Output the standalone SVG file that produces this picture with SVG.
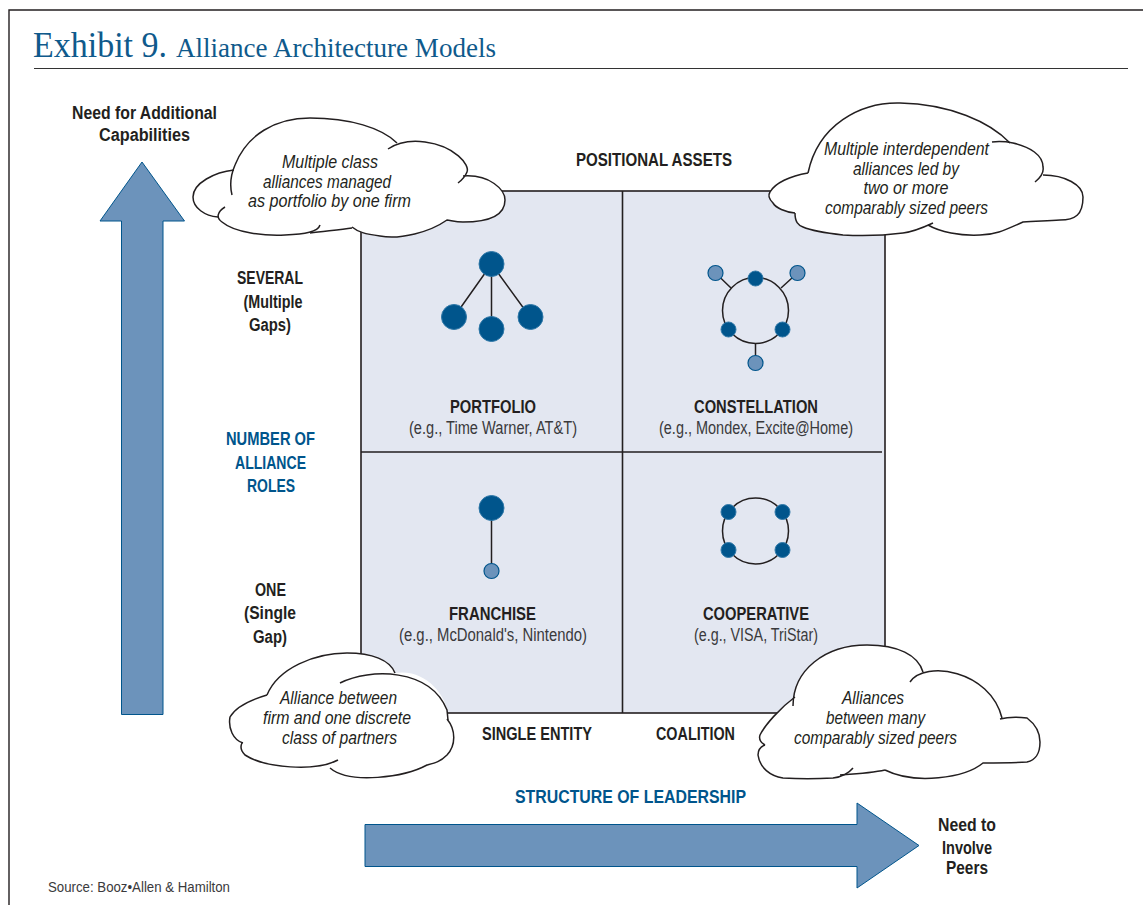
<svg xmlns="http://www.w3.org/2000/svg" width="1143" height="905" viewBox="0 0 1143 905">
<style>
text{font-family:"Liberation Sans",Arial,sans-serif;fill:#231f20;text-anchor:middle}
.b{font-weight:700;font-size:17.5px}
.bl{fill:#00558c}
.n{font-size:17.5px;fill:#3a3a3c}
.i{font-style:italic;font-size:18px}
.t{font-family:"Liberation Serif","Times New Roman",serif;fill:#0f5a8c;text-anchor:start}
.cl{fill:#fff;stroke:none}
.co{fill:none;stroke:#231f20;stroke-width:1.5}
.arrow{fill:#6c93bb;stroke:#00558c;stroke-width:1}
.d{fill:#00558c;stroke:#2f78a8;stroke-width:1}
.l{fill:#6c93bb;stroke:#00558c;stroke-width:1.2}
.e{fill:none;stroke:#231f20;stroke-width:1.5}
</style>
<rect width="1143" height="905" fill="#fff"/>
<path d="M9 905V10H1143" fill="none" stroke="#231f20" stroke-width="1.4"/>
<text class="t" x="33" y="57" textLength="134" lengthAdjust="spacingAndGlyphs" style="font-size:35.5px">Exhibit 9.</text>
<text class="t" x="176" y="57" textLength="320" lengthAdjust="spacingAndGlyphs" style="font-size:27px">Alliance Architecture Models</text>
<path d="M34 68.500H1128" stroke="#333" stroke-width="1"/>

<g id="matrix">
<rect x="361" y="191" width="524" height="522" fill="#e3e7f1" stroke="#231f20" stroke-width="1.6"/>
<path d="M622.500 191V713M361 452H882" stroke="#231f20" stroke-width="1.6" fill="none"/>
</g>

<g id="arrow-up"><path class="arrow" d="M121.500 714.500V221H100L142 162L184.500 221H163V714.500Z"/></g>
<g id="arrow-right"><path class="arrow" d="M365 824.500H857V803L919 845.500L857 888V866.500H365Z"/></g>

<g id="labels">
<text class="b" x="144.500" y="119" textLength="145" lengthAdjust="spacingAndGlyphs">Need for Additional</text>
<text class="b" x="144.500" y="141" textLength="91" lengthAdjust="spacingAndGlyphs">Capabilities</text>
<text class="b" x="654" y="166" textLength="156" lengthAdjust="spacingAndGlyphs">POSITIONAL ASSETS</text>
<text class="b" x="270" y="284" textLength="66" lengthAdjust="spacingAndGlyphs">SEVERAL</text>
<text class="b" x="273" y="308" textLength="59" lengthAdjust="spacingAndGlyphs">(Multiple</text>
<text class="b" x="270" y="331" textLength="42" lengthAdjust="spacingAndGlyphs">Gaps)</text>
<text class="b bl" x="270.500" y="445" textLength="89" lengthAdjust="spacingAndGlyphs">NUMBER OF</text>
<text class="b bl" x="270.500" y="469" textLength="71" lengthAdjust="spacingAndGlyphs">ALLIANCE</text>
<text class="b bl" x="271" y="492" textLength="48" lengthAdjust="spacingAndGlyphs">ROLES</text>
<text class="b" x="270.500" y="596" textLength="31" lengthAdjust="spacingAndGlyphs">ONE</text>
<text class="b" x="270" y="619" textLength="52" lengthAdjust="spacingAndGlyphs">(Single</text>
<text class="b" x="270" y="643" textLength="34" lengthAdjust="spacingAndGlyphs">Gap)</text>
<text class="b" x="537" y="740" textLength="110" lengthAdjust="spacingAndGlyphs">SINGLE ENTITY</text>
<text class="b" x="695.500" y="740" textLength="79" lengthAdjust="spacingAndGlyphs">COALITION</text>
<text class="b bl" x="630.500" y="803" textLength="231" lengthAdjust="spacingAndGlyphs">STRUCTURE OF LEADERSHIP</text>
<text class="b" x="967" y="831" textLength="58" lengthAdjust="spacingAndGlyphs">Need to</text>
<text class="b" x="967" y="854" textLength="50" lengthAdjust="spacingAndGlyphs">Involve</text>
<text class="b" x="967" y="874" textLength="42" lengthAdjust="spacingAndGlyphs">Peers</text>
<text x="48" y="892" textLength="182" lengthAdjust="spacingAndGlyphs" style="text-anchor:start;font-size:14px;fill:#3a3a3c">Source: Booz•Allen &amp; Hamilton</text>
</g>

<g id="portfolio">
<path class="e" d="M491.500 264L454 317M491.500 264V329M491.500 264L530 317"/>
<circle class="d" cx="491.500" cy="264" r="12.500"/><circle class="d" cx="454" cy="317" r="12.500"/><circle class="d" cx="491.500" cy="329" r="12.500"/><circle class="d" cx="530.500" cy="317" r="12.500"/>
<text class="b" x="493" y="413" textLength="86" lengthAdjust="spacingAndGlyphs">PORTFOLIO</text>
<text class="n" x="493" y="434" textLength="168" lengthAdjust="spacingAndGlyphs">(e.g., Time Warner, AT&amp;T)</text>
</g>
<g id="constellation">
<circle class="e" cx="755.500" cy="310.500" r="33"/>
<path class="e" d="M715.500 273L731 288M797.500 273L781 288M755.500 344V363"/>
<circle class="l" cx="715.500" cy="273" r="7.500"/><circle class="l" cx="797.500" cy="273" r="7.500"/><circle class="l" cx="755.500" cy="363" r="7.500"/>
<circle class="d" cx="755.500" cy="278.500" r="7.500"/><circle class="d" cx="728.500" cy="329.500" r="7.500"/><circle class="d" cx="782.500" cy="329.500" r="7.500"/>
<text class="b" x="756" y="413" textLength="124" lengthAdjust="spacingAndGlyphs">CONSTELLATION</text>
<text class="n" x="756" y="434" textLength="194" lengthAdjust="spacingAndGlyphs">(e.g., Mondex, Excite@Home)</text>
</g>
<g id="franchise">
<path class="e" d="M491.500 508V571"/>
<circle class="d" cx="491.500" cy="508" r="12.500"/><circle class="l" cx="491.500" cy="571" r="7.500"/>
<text class="b" x="492.500" y="620" textLength="87" lengthAdjust="spacingAndGlyphs">FRANCHISE</text>
<text class="n" x="493" y="641" textLength="188" lengthAdjust="spacingAndGlyphs">(e.g., McDonald's, Nintendo)</text>
</g>
<g id="cooperative">
<circle class="e" cx="755.500" cy="531" r="33"/>
<circle class="d" cx="728.500" cy="512" r="7.500"/><circle class="d" cx="782.500" cy="512" r="7.500"/><circle class="d" cx="728.500" cy="550" r="7.500"/><circle class="d" cx="782.500" cy="550" r="7.500"/>
<text class="b" x="756" y="620" textLength="106" lengthAdjust="spacingAndGlyphs">COOPERATIVE</text>
<text class="n" x="756" y="641" textLength="124" lengthAdjust="spacingAndGlyphs">(e.g., VISA, TriStar)</text>
</g>

<g id="cloud-portfolio">
<path class="cl" d="M234 170C247 135 275 118 310 118C350 118 382 128 397 143C410 140 425 141 435 143C455 146 470 165 467 172L463 176C490 174 505 190 505 200C505 215 490 222 463 222C455 222 450 220 447 220C430 232 400 240 380 236C365 234 358 232 352 228C340 230 325 231 310 233C305 234 295 235 285 235C265 236 235 233 222 222L218 217C205 216 193 208 193 197C193 183 215 172 234 170Z"/>
<path class="co" d="M232 195C229 183 232 172 235 165C247 135 275 118 310 118C350 118 382 128 397 143"/>
<path class="co" d="M388 149C397 143 410 140 425 142C455 146 470 165 467 172C465 177 462 180 458 183"/>
<path class="co" d="M463 176C490 174 505 190 505 200C505 215 490 222 463 222C455 222 450 220 447 220C430 232 400 240 380 236C365 234 358 232 352 227"/>
<path class="co" d="M225 207C217 212 216 218 222 222C235 233 265 236 285 235C305 234 318 232 320 225"/>
<path class="co" d="M310 233C325 231 340 230 352 228"/>
<path class="co" d="M234 170C215 172 193 183 193 197C193 208 205 216 218 217"/>
<text class="i" x="330" y="168" textLength="96" lengthAdjust="spacingAndGlyphs">Multiple class</text>
<text class="i" x="327" y="188" textLength="128" lengthAdjust="spacingAndGlyphs">alliances managed</text>
<text class="i" x="329.500" y="207" textLength="163" lengthAdjust="spacingAndGlyphs">as portfolio by one firm</text>
</g>
<g id="cloud-constellation">
<path class="cl" d="M808 173C818 125 860 102 900 103C950 104 990 122 1010 143C1030 147 1043 155 1043 167L1043 175C1065 175 1083 185 1083 197C1083 215 1075 220 1060 220C1045 221 1035 221 1023 222C1005 230 995 235 980 235C960 236 940 232 928 225C915 230 910 233 903 233C880 236 860 236 843 235C825 233 810 230 803 227C798 225 795 222 795 213C785 212 775 208 773 203C768 198 768 195 770 192C775 183 790 176 808 173Z"/>
<path class="co" d="M808 173C818 125 860 102 900 103C950 104 990 122 1010 143"/>
<path class="co" d="M992 142C1000 141 1008 142 1013 143C1030 147 1043 155 1043 167C1044 172 1040 178 1035 182"/>
<path class="co" d="M1043 175C1065 175 1083 185 1083 197C1083 215 1075 220 1060 220C1045 221 1035 221 1023 222C1005 230 995 235 980 235C960 236 940 232 928 225"/>
<path class="co" d="M933 223C920 229 912 232 903 233C880 236 860 236 843 235C825 233 810 230 803 227C798 225 795 222 795 213"/>
<path class="co" d="M808 173C790 176 775 183 770 192C768 195 768 198 773 203C776 208 785 212 795 213"/>
<text class="i" x="906.500" y="155" textLength="165" lengthAdjust="spacingAndGlyphs">Multiple interdependent</text>
<text class="i" x="906" y="175" textLength="106" lengthAdjust="spacingAndGlyphs">alliances led by</text>
<text class="i" x="906" y="194" textLength="85" lengthAdjust="spacingAndGlyphs">two or more</text>
<text class="i" x="906.500" y="214" textLength="163" lengthAdjust="spacingAndGlyphs">comparably sized peers</text>
</g>
<g id="cloud-franchise">
<path class="cl" d="M267 695C278 668 315 653 347 653C372 653 390 660 395 673C425 668 445 695 447 710L447 719C456 730 456 745 447 755C440 762 435 763 427 765C405 777 350 785 330 768C300 772 265 768 245 755L243 743C233 740 228 728 230 717C235 708 250 700 267 695Z"/>
<path class="co" d="M267 695C278 668 315 653 347 653C372 653 390 660 395 673"/>
<path class="co" d="M340 683C370 668 430 668 447 710L448 720"/>
<path class="co" d="M447 719C456 730 456 745 447 755C440 762 435 763 427 765C405 777 350 785 330 768"/>
<path class="co" d="M338 760C315 772 265 768 245 755C241 751 240 747 242 743"/>
<path class="co" d="M267 695C250 700 235 708 230 717C228 728 233 740 243 743"/>
<text class="i" x="338.500" y="704" textLength="117" lengthAdjust="spacingAndGlyphs">Alliance between</text>
<text class="i" x="337" y="724" textLength="148" lengthAdjust="spacingAndGlyphs">firm and one discrete</text>
<text class="i" x="339.500" y="744" textLength="115" lengthAdjust="spacingAndGlyphs">class of partners</text>
</g>
<g id="cloud-cooperative">
<path class="cl" d="M795 697C795 670 825 645 867 645C898 645 918 655 923 672C950 660 990 675 1002 718C1010 717 1018 717 1027 718C1035 724 1040 733 1040 742C1040 755 1035 760 1027 762C1015 763 1000 763 983 763C965 778 915 785 885 770C875 772 855 776 840 775L833 778C815 779 800 779 783 778C770 776 760 768 758 755C758 750 760 747 765 745C760 740 759 738 760 735C765 725 780 708 795 697Z"/>
<path class="co" d="M793 706C793 670 825 645 867 645C898 645 918 655 923 672"/>
<path class="co" d="M910 682C925 660 990 670 1002 718"/>
<path class="co" d="M1000 719C1008 717 1018 717 1027 718C1035 724 1040 733 1040 742C1040 755 1035 760 1027 762C1015 763 1000 763 983 763C965 778 915 785 885 770"/>
<path class="co" d="M853 768C848 774 842 777 833 778C815 779 800 779 783 778C770 776 760 768 758 755C758 750 760 747 765 745"/>
<path class="co" d="M840 775C855 774 872 773 885 770"/>
<path class="co" d="M795 697C780 708 765 725 760 735C759 738 760 742 765 745"/>
<text class="i" x="873" y="704" textLength="62" lengthAdjust="spacingAndGlyphs">Alliances</text>
<text class="i" x="875.500" y="724" textLength="99" lengthAdjust="spacingAndGlyphs">between many</text>
<text class="i" x="875.500" y="744" textLength="163" lengthAdjust="spacingAndGlyphs">comparably sized peers</text>
</g>
</svg>
